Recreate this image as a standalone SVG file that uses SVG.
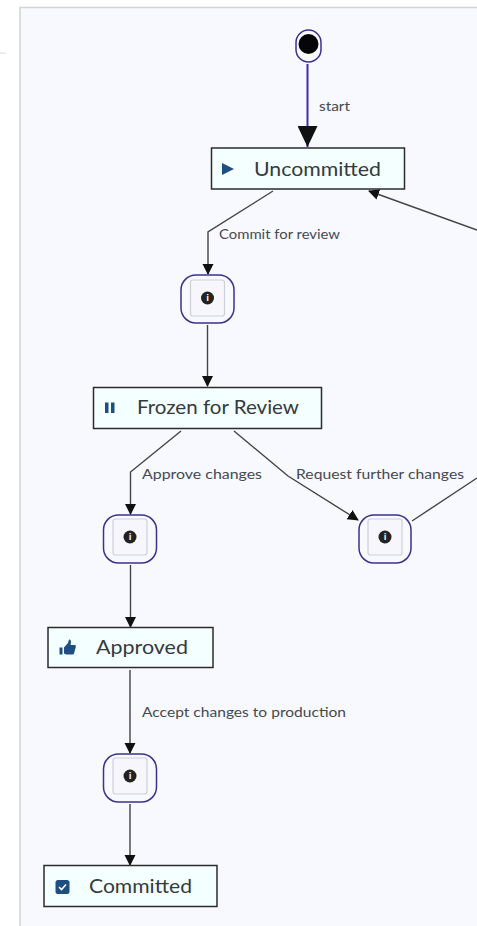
<svg xmlns="http://www.w3.org/2000/svg" width="477" height="926" viewBox="0 0 477 926">
<style>
.panel{fill:#f8f8ff;stroke:#d4d4d4;stroke-width:1.5}
.state{fill:#f4ffff;stroke:#2b2b2b;stroke-width:1.5}
.title{font-family:"Lato","Liberation Sans",sans-serif;font-size:20px;fill:#333a40}
.lbl{font-family:"Lato","Liberation Sans",sans-serif;font-size:14px;fill:#444a50}
.icon{fill:#1f4e80}
.outer{fill:none;stroke:#3f2f8f;stroke-width:1.5}
.inner{fill:#f6f6fc;stroke:#d0d0dc;stroke-width:1.2}
.info{fill:#222}
.i{font-family:"DejaVu Sans",sans-serif;font-size:8px;font-weight:bold;fill:#f0f0f0;text-anchor:middle}
.edge{fill:none;stroke:#444;stroke-width:1.4}
</style>
<defs>
<marker id="arr" markerUnits="userSpaceOnUse" markerWidth="11" markerHeight="12" refX="10" refY="5.5" orient="auto"><path d="M0 0L11 5.5L0 11Z" fill="#111"/></marker>
<marker id="big" markerUnits="userSpaceOnUse" markerWidth="22" markerHeight="20" refX="21" refY="10" orient="auto"><path d="M0 0L21 10L0 20Z" fill="#111"/></marker>
<g id="infoBox">
<rect class="inner" x="-17" y="-18" width="34" height="36" rx="2.5"/>
<circle class="info" cx="0" cy="0" r="6.5"/>
<text class="i" x="0" y="3">i</text>
</g>
</defs>
<rect width="477" height="926" fill="#fff"/>
<rect class="panel" x="20" y="7.5" width="470" height="930"/>
<path d="M0 53H6" stroke="#ddd" stroke-width="1"/>
<g id="connectors">
<path class="edge" d="M307.500 64V147" style="stroke:#3f2f9f;stroke-width:2" marker-end="url(#big)"/>
<path class="edge" d="M273 191L208 232V274" marker-end="url(#arr)"/>
<path class="edge" d="M207.500 325V386" marker-end="url(#arr)"/>
<path class="edge" d="M181 431L130.500 472V514" marker-end="url(#arr)"/>
<path class="edge" d="M234 431L288 476L358 520" marker-end="url(#arr)"/>
<path class="edge" d="M412 521L477 478"/>
<path class="edge" d="M477 230L369 191" marker-end="url(#arr)"/>
<path class="edge" d="M130.500 565V627" marker-end="url(#arr)"/>
<path class="edge" d="M130 670V753" marker-end="url(#arr)"/>
<path class="edge" d="M130 804V865" marker-end="url(#arr)"/>
<text class="lbl" x="319" y="111" textLength="31" lengthAdjust="spacingAndGlyphs">start</text>
<text class="lbl" x="219" y="239" textLength="121" lengthAdjust="spacingAndGlyphs">Commit for review</text>
<text class="lbl" x="142" y="479" textLength="120" lengthAdjust="spacingAndGlyphs">Approve changes</text>
<text class="lbl" x="296" y="479" textLength="168" lengthAdjust="spacingAndGlyphs">Request further changes</text>
<text class="lbl" x="142" y="717" textLength="204" lengthAdjust="spacingAndGlyphs">Accept changes to production</text>
</g>
<g id="start">
<rect class="outer" x="296" y="30" width="25" height="32" rx="12.500"/>
<circle cx="308.500" cy="44" r="10" fill="#060608"/>
</g>
<g id="uncommitted">
<rect class="state" x="211.500" y="148" width="193" height="41"/>
<path class="icon" d="M222 163L234 169L222 175Z"/>
<text class="title" x="254" y="176" textLength="127" lengthAdjust="spacingAndGlyphs">Uncommitted</text>
</g>
<g id="info1">
<rect class="outer" x="181" y="275" width="53" height="48" rx="15"/>
<use href="#infoBox" x="207.500" y="298"/>
</g>
<g id="frozen">
<rect class="state" x="93.500" y="387.500" width="228" height="41"/>
<rect class="icon" x="105" y="402.500" width="3.500" height="10.500"/>
<rect class="icon" x="111" y="402.500" width="3.500" height="10.500"/>
<text class="title" x="137" y="414" textLength="162" lengthAdjust="spacingAndGlyphs">Frozen for Review</text>
</g>
<g id="info2">
<rect class="outer" x="103.500" y="515" width="53" height="48" rx="15"/>
<use href="#infoBox" x="130" y="537"/>
</g>
<g id="info3">
<rect class="outer" x="359" y="515" width="52" height="48" rx="15"/>
<use href="#infoBox" x="385" y="537"/>
</g>
<g id="approved">
<rect class="state" x="48" y="627.500" width="165" height="40"/>
<path class="icon" d="M59.500 647.500H62.500V654.500H59.500ZM64 647.500L68 643L69 639.500C71 639.500 71.500 641.500 70.500 645H75C76 645 76 646.500 75.500 648L74 653.500C73.500 654.500 73 654.500 72 654.500H66L64 653.500Z"/>
<text class="title" x="96" y="654" textLength="92" lengthAdjust="spacingAndGlyphs">Approved</text>
</g>
<g id="info4">
<rect class="outer" x="103.500" y="754" width="53" height="48" rx="15"/>
<use href="#infoBox" x="130" y="776"/>
</g>
<g id="committed">
<rect class="state" x="44" y="865.500" width="173" height="41"/>
<rect class="icon" x="55.500" y="880" width="14" height="14" rx="2.500"/>
<path d="M59 887L61.500 889.500L66 884.500" fill="none" stroke="#fff" stroke-width="1.600"/>
<text class="title" x="89" y="893" textLength="103" lengthAdjust="spacingAndGlyphs">Committed</text>
</g>
</svg>
